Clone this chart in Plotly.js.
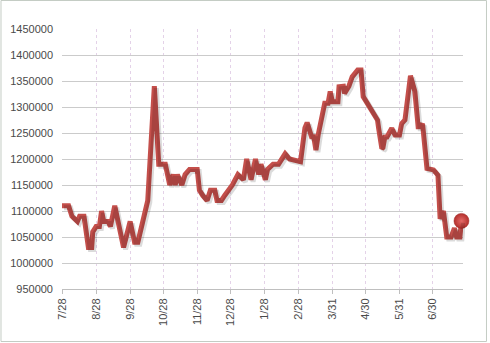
<!DOCTYPE html>
<html><head>
<meta charset="utf-8">
<script src="https://cdn.plot.ly/plotly-3.0.1.min.js"></script>
<style>body{margin:0;background:#fff}#c{width:490px;height:343px}</style>
</head><body><div id="c"></div>
<script>
// day offsets counted from 7/28
const days = [0,6,9,14,16,20,24,27,28,31,34,36,38,42,44,48,51,56,62,66,69,72,74,78,84,86,88,94,96,98,101,103,105,109,112,116,123,125,128,132,135,139,141,145,148,155,160,165,168,172,176,179,181,185,187,192,197,203,207,217,221,223,227,229,231,233,239,242,244,246,251,252,256,257,261,264,269,272,274,282,287,288,291,292,294,295,300,303,307,309,312,317,321,324,326,328,332,338,342,344,347,350,354,357,359,362,363.4];
const values = [1110000,1110000,1090000,1080000,1090000,1090000,1030000,1030000,1060000,1070000,1070000,1100000,1080000,1080000,1070000,1110000,1080000,1030000,1080000,1040000,1040000,1070000,1080000,1120000,1340000,1250000,1190000,1190000,1170000,1150000,1170000,1150000,1170000,1150000,1170000,1180000,1180000,1140000,1130000,1120000,1140000,1140000,1120000,1120000,1130000,1150000,1170000,1160000,1200000,1160000,1200000,1170000,1190000,1160000,1180000,1190000,1190000,1210000,1200000,1195000,1260000,1270000,1243000,1243000,1217000,1246000,1307000,1307000,1330000,1310000,1310000,1339000,1340000,1326000,1340000,1358000,1371000,1371000,1320000,1291000,1275000,1260000,1220000,1222000,1246000,1240000,1259000,1246000,1246000,1268000,1275000,1360000,1330000,1262000,1262000,1268000,1182000,1179000,1169000,1085000,1100000,1050000,1050000,1067000,1050000,1050000,1081000];
const tickDays = [0,31,62,92,123,153,184,215,246,276,307,337];
const tickLabels = ['7/28','8/28','9/28','10/28','11/28','12/28','1/28','2/28','3/31','4/30','5/31','6/30'];
const yTicks = [950000,1000000,1050000,1100000,1150000,1200000,1250000,1300000,1350000,1400000,1450000];

const xRange = [0, 364.8];
const yRange = [950000, 1450000];
const W = 490 - 62 - 25, H = 343 - 29 - 52;
const ex = 2 / W, ey = 2 / H;
const font = {family: 'Liberation Sans, Arial, sans-serif', size: 11, color: '#4a4a4a'};

const traces = [
  {x: days, y: values, xaxis: 'x2', yaxis: 'y2', mode: 'lines',
   line: {color: 'rgba(0,0,0,0.14)', width: 5}, hoverinfo: 'skip'},
  {x: days, y: values, mode: 'lines',
   line: {color: '#c44f4b', width: 5}},
  {x: [days[days.length-1]], y: [values[values.length-1]], mode: 'markers',
   marker: {size: 15, color: '#b3302d', gradient: {type: 'radial', color: '#e46a67'},
            line: {color: '#a02a27', width: 0.5}}, cliponaxis: false}
];

const layout = {
  width: 490, height: 343,
  margin: {l: 62, r: 25, t: 29, b: 52, pad: 0},
  paper_bgcolor: '#fff', plot_bgcolor: 'rgba(0,0,0,0)',
  showlegend: false, font: font,
  xaxis: {domain: [0, 1 - ex], range: xRange, type: 'linear',
    tickvals: tickDays, ticktext: tickLabels, tickangle: -90,
    ticks: 'outside', ticklen: 4, tickcolor: '#bfbfbf',
    showgrid: true, gridcolor: '#e4d2e8', griddash: 'dot', gridwidth: 1,
    showline: true, linecolor: '#bfbfbf', zeroline: false, tickfont: font},
  yaxis: {domain: [ey, 1], range: yRange, tickvals: yTicks, tickformat: 'd',
    ticks: '', showgrid: true, gridcolor: '#cbcbcb', gridwidth: 1,
    zeroline: false, showline: false, ticklabelstandoff: 8, tickfont: font},
  xaxis2: {domain: [ex, 1], range: xRange, visible: false, anchor: 'y2', fixedrange: true},
  yaxis2: {domain: [0, 1 - ey], range: yRange, visible: false, anchor: 'x2', fixedrange: true},
  shapes: [
    {type: 'rect', xref: 'paper', yref: 'paper', x0: -0.1514, x1: 1.0533, y0: -0.1927, y1: 1.1088,
     line: {color: '#c4ccc4', width: 1}, layer: 'below'}
  ]
};

Plotly.newPlot('c', traces, layout, {staticPlot: true, displayModeBar: false});
</script>
</body></html>
